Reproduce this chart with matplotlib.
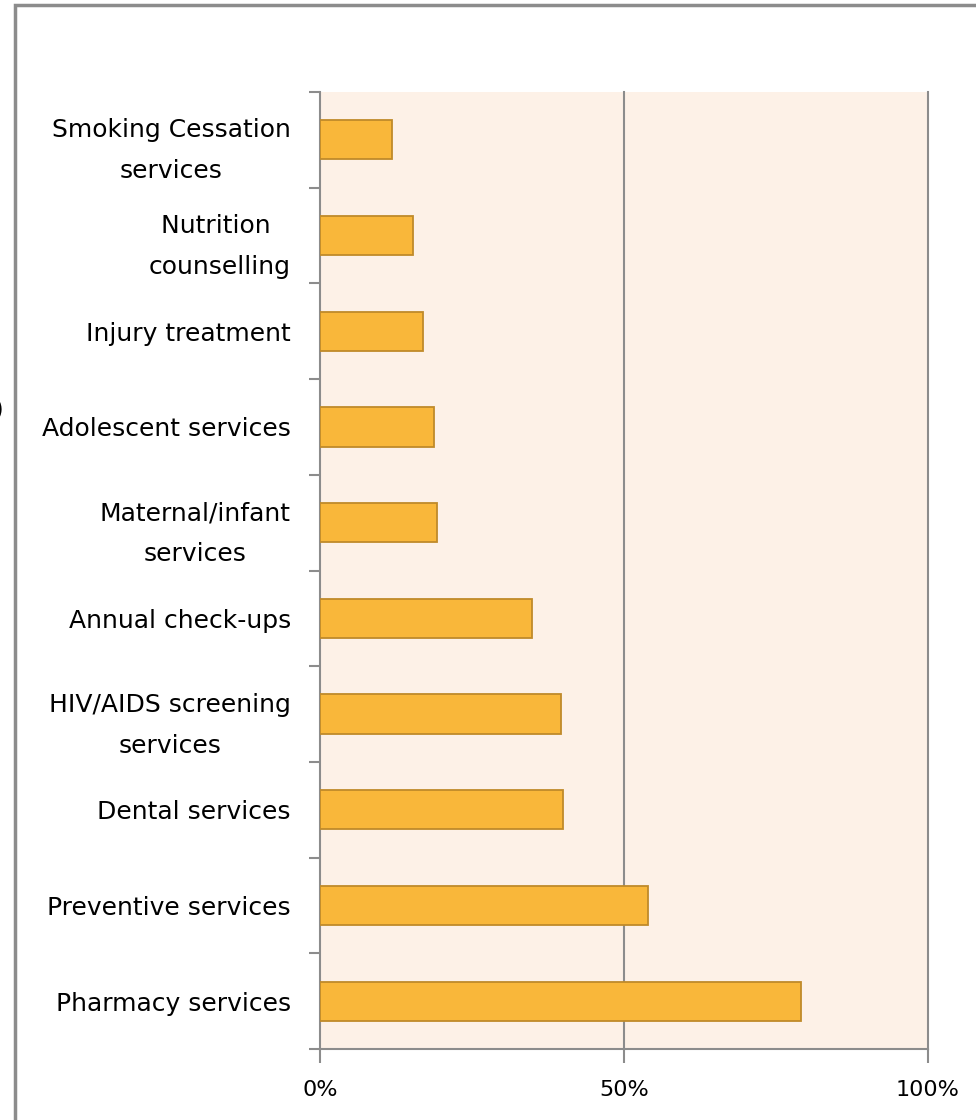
import matplotlib.pyplot as plt
from matplotlib.patches import Rectangle

# Datos (de abajo hacia arriba)
categorias = ['Pharmacy services', 'Preventive services', 'Dental services',
              'HIV/AIDS screening\nservices', 'Annual check-ups',
              'Maternal/infant\nservices', 'Adolescent services',
              'Injury treatment', 'Nutrition \ncounselling',
              'Smoking Cessation\nservices']
valores = [79.1, 54.0, 39.9, 39.6, 34.8, 19.3, 18.7, 16.9, 15.3, 11.8]
ticks_x = [0, 50, 100]
etiquetas_x = ['0%', '50%', '100%']

plt.rcParams['font.family'] = ['DejaVu Sans']

fig = plt.figure(figsize=(9.76, 11.2), dpi=100)
W, H = 976, 1120
ax = fig.add_axes([320 / W, 1 - 1049 / H, 608 / W, 957 / H])

# Marco exterior (recortado a la derecha y abajo)
fig.patches.append(Rectangle((15 / W, -0.1), 1.2, 1 - 5 / H + 0.1,
                             transform=fig.transFigure, fill=False,
                             edgecolor='#8c8c8c', linewidth=2.5))

pos = range(len(categorias))
ax.barh(pos, valores, height=0.41, color='#f9b73a', edgecolor='#c08a2a',
        linewidth=1.3, zorder=3)

ax.set_facecolor('#fdf1e7')
ax.set_xlim(0, 100)
ax.set_ylim(-0.5, len(categorias) - 0.5)

# Cuadrícula vertical
for v in [50, 100]:
    ax.axvline(v, color='#8c8c8c', linewidth=1.5, zorder=1, clip_on=False)

ax.set_xticks(ticks_x)
ax.set_xticklabels(etiquetas_x, fontsize=16)
ax.set_yticks([p - 0.5 for p in range(len(categorias) + 1)], minor=False)
ax.set_yticklabels([])
ax.set_yticks(list(pos), minor=True)
ax.set_yticklabels(categorias, minor=True, fontsize=18,
                   multialignment='center', linespacing=1.9)
ax.tick_params(axis='y', which='minor', length=0, pad=21)
ax.tick_params(axis='y', which='major', length=8, width=1.5, color='#8c8c8c')
ax.tick_params(axis='x', length=10, width=1.5, color='#8c8c8c', pad=12)

for lado in ['top', 'right']:
    ax.spines[lado].set_visible(False)
for lado in ['left', 'bottom']:
    ax.spines[lado].set_color('#8c8c8c')
    ax.spines[lado].set_linewidth(1.5)

# Caracter recortado en el borde izquierdo (como en el original)
fig.text(4 / W, 1 - 410 / H, ')', ha='right', va='center', fontsize=18)

plt.savefig('out.png', dpi=100)
